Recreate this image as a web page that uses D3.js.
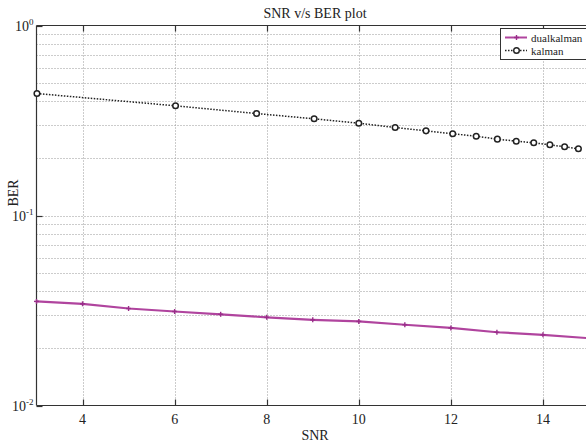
<!DOCTYPE html>
<html><head><meta charset="utf-8">
<script src="https://cdn.jsdelivr.net/npm/d3@7"></script>
<style>
body{margin:0;background:#fff;}
svg{display:block;font-family:"Liberation Serif","Times New Roman",serif;}
</style></head>
<body><svg id="c" width="586" height="443"></svg>
<script>
const dualSNR = [3,4,5,6,7,8,9,10,11,12,13,14,15];
const dualBER = [0.0353,0.0343,0.0324,0.03125,0.0302,0.0291,0.02825,0.0277,0.0266,0.0256,0.0243,0.02355,0.0226];
const kalSNR = [3.01,6.02,7.78,9.03,10.0,10.79,11.46,12.04,12.55,13.01,13.42,13.80,14.15,14.47,14.77];
const kalBER = [0.4385,0.3778,0.344,0.3228,0.306,0.2904,0.279,0.2692,0.2615,0.2522,0.2461,0.2413,0.2355,0.2299,0.2244];
const xTicks = [4,6,8,10,12,14];
const yDecades = [1,0.1,0.01];
const yExps = ["0","-1","-2"];
const seriesNames = ["dualkalman","kalman"];

const svg = d3.select("#c");
const L=36.5, R=589, T=25.5, B=405.5;
const x = d3.scaleLinear().domain([3,15]).range([L,R]);
const y = d3.scaleLog().domain([0.01,1]).range([B,T]);

// grid
const minor=[];
[0.01,0.1].forEach(d=>{for(let k=2;k<=9;k++) minor.push(d*k);});
const grid = svg.append("g").attr("stroke","#999").attr("stroke-width",1).attr("stroke-dasharray","1,2");
grid.selectAll("line.h").data(minor.concat([0.1])).join("line")
  .attr("x1",L).attr("x2",R).attr("y1",d=>Math.round(y(d))+0.5).attr("y2",d=>Math.round(y(d))+0.5);
grid.selectAll("line.v").data(xTicks).join("line")
  .attr("y1",T).attr("y2",B).attr("x1",d=>Math.round(x(d))+0.5).attr("x2",d=>Math.round(x(d))+0.5);

// axes box
const ax = svg.append("g").attr("stroke","#333").attr("stroke-width",1.2).attr("fill","none");
ax.append("line").attr("x1",L).attr("x2",R).attr("y1",T).attr("y2",T);
ax.append("line").attr("x1",L).attr("x2",R).attr("y1",B).attr("y2",B);
ax.append("line").attr("x1",L).attr("x2",L).attr("y1",T).attr("y2",B);
xTicks.forEach(t=>{
  const px=Math.round(x(t))+0.5;
  ax.append("line").attr("x1",px).attr("x2",px).attr("y1",B).attr("y2",B-6);
  ax.append("line").attr("x1",px).attr("x2",px).attr("y1",T).attr("y2",T+6);
});
yDecades.forEach(t=>{
  const py=Math.round(y(t))+0.5;
  ax.append("line").attr("x1",L).attr("x2",L+6).attr("y1",py).attr("y2",py);
});

// tick labels
svg.append("g").selectAll("text").data(xTicks).join("text")
  .attr("x",d=>x(d)).attr("y",424).attr("text-anchor","middle")
  .attr("font-size",14).attr("fill","#222").text(d=>d);
const yl = svg.append("g");
yDecades.forEach((d,i)=>{
  const t = yl.append("text").attr("x",L-3).attr("y",y(d)+5).attr("text-anchor","end").attr("font-size",14).attr("fill","#222");
  t.append("tspan").text("10");
  t.append("tspan").attr("dy",-6).attr("font-size",9).text(yExps[i]);
});

// labels
svg.append("text").attr("x",315).attr("y",18).attr("text-anchor","middle").attr("font-size",14).attr("fill","#222").text("SNR v/s BER plot");
svg.append("text").attr("x",315).attr("y",440).attr("text-anchor","middle").attr("font-size",14).attr("fill","#222").text("SNR");
svg.append("text").attr("transform","translate(18,193) rotate(-90)").attr("text-anchor","middle").attr("font-size",14).attr("fill","#222").text("BER");

// kalman
const kd = kalSNR.map((s,i)=>[s,kalBER[i]]);
const line = d3.line().x(d=>x(d[0])).y(d=>y(d[1]));
svg.append("path").datum(kd).attr("d",line).attr("fill","none").attr("stroke","#222").attr("stroke-width",1.5).attr("stroke-dasharray","1.5,1.5");
svg.append("g").selectAll("circle").data(kd).join("circle")
  .attr("cx",d=>x(d[0])).attr("cy",d=>y(d[1])).attr("r",2.8)
  .attr("fill","#fff").attr("stroke","#222").attr("stroke-width",1.5);

// dualkalman
const dd = dualSNR.map((s,i)=>[s,dualBER[i]]);
const mag="#b0449e";
svg.append("path").datum(dd).attr("d",line).attr("fill","none").attr("stroke",mag).attr("stroke-width",2.2);
const dm = svg.append("g").attr("stroke","#9a2e8a").attr("stroke-width",1.4);
dd.forEach(d=>{
  const cx=x(d[0]), cy=y(d[1]);
  dm.append("line").attr("x1",cx-2.5).attr("x2",cx+2.5).attr("y1",cy).attr("y2",cy);
  dm.append("line").attr("x1",cx).attr("x2",cx).attr("y1",cy-2.5).attr("y2",cy+2.5);
});

// legend
const lg = svg.append("g");
lg.append("rect").attr("x",500.5).attr("y",28.5).attr("width",90).attr("height",31).attr("fill","#fff").attr("stroke","#333").attr("stroke-width",1);
lg.append("line").attr("x1",505).attr("x2",527).attr("y1",37.5).attr("y2",37.5).attr("stroke",mag).attr("stroke-width",2);
lg.append("line").attr("x1",514).attr("x2",519).attr("y1",37.5).attr("y2",37.5).attr("stroke","#9a2e8a").attr("stroke-width",1.4);
lg.append("line").attr("x1",516.5).attr("x2",516.5).attr("y1",35).attr("y2",40).attr("stroke","#9a2e8a").attr("stroke-width",1.4);
lg.append("line").attr("x1",505).attr("x2",527).attr("y1",50.5).attr("y2",50.5).attr("stroke","#222").attr("stroke-width",1.3).attr("stroke-dasharray","1.5,1.5");
lg.append("circle").attr("cx",516.5).attr("cy",50.5).attr("r",2.8).attr("fill","#fff").attr("stroke","#222").attr("stroke-width",1.4);
lg.selectAll("text").data(seriesNames).join("text")
  .attr("x",531).attr("y",(d,i)=>41.5+i*13).attr("font-size",11).attr("fill","#222").text(d=>d);
</script></body></html>
